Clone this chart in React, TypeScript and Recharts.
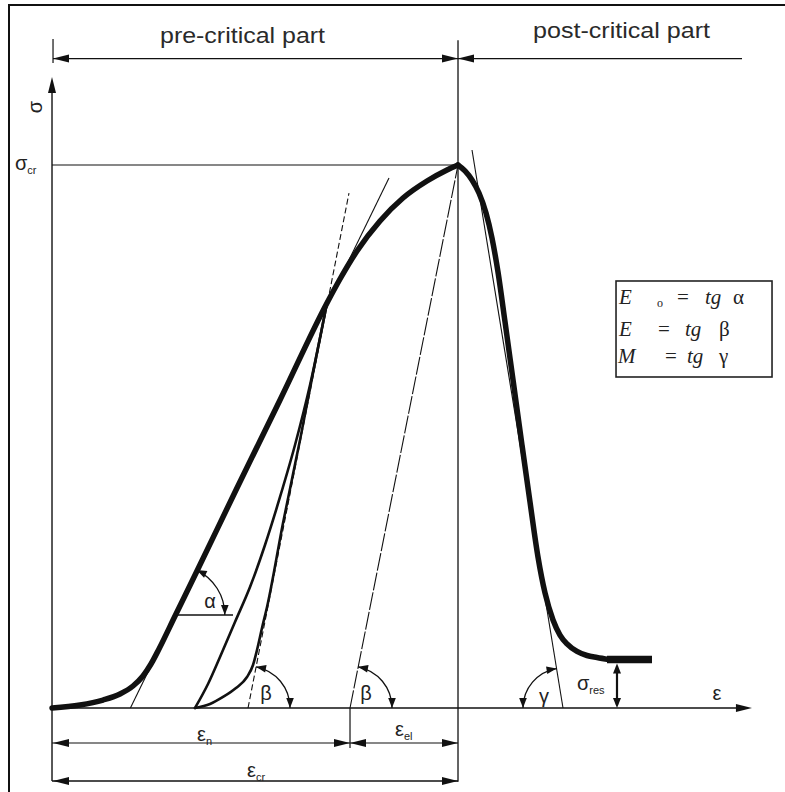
import React from 'react';
import { LineChart, Line, XAxis, YAxis, ReferenceDot } from 'recharts';

// strain ε and stress σ, both in % of the critical point (εcr = 100, σcr = 100)
type Pt = { x: number; y: number };

const preCritical: Pt[] = [
  { x: 0, y: 0 }, { x: 6.9, y: 0.55 }, { x: 12.56, y: 1.47 }, { x: 16.75, y: 2.58 },
  { x: 19.95, y: 4.05 }, { x: 22.41, y: 5.89 }, { x: 24.38, y: 8.1 }, { x: 26.35, y: 10.87 },
  { x: 30.3, y: 16.94 }, { x: 35.47, y: 24.86 }, { x: 45.32, y: 40.15 }, { x: 56.16, y: 56.72 },
  { x: 67.73, y: 74.59 }, { x: 70.94, y: 79.01 }, { x: 75.12, y: 84.16 }, { x: 80.79, y: 89.69 },
  { x: 86.45, y: 93.92 }, { x: 92.36, y: 97.05 }, { x: 97.29, y: 99.08 }, { x: 100, y: 100 },
];

const postCritical: Pt[] = [
  { x: 100, y: 100 }, { x: 101.72, y: 98.9 }, { x: 103.45, y: 97.24 }, { x: 105.17, y: 94.84 },
  { x: 106.9, y: 91.16 }, { x: 108.37, y: 86.56 }, { x: 109.85, y: 80.29 }, { x: 111.58, y: 71.09 },
  { x: 113.55, y: 60.41 }, { x: 115.76, y: 48.43 }, { x: 117.73, y: 37.94 }, { x: 119.7, y: 27.81 },
  { x: 121.43, y: 21.18 }, { x: 123.4, y: 16.21 }, { x: 125.12, y: 13.44 }, { x: 126.85, y: 11.79 },
  { x: 129.31, y: 10.41 }, { x: 131.77, y: 9.67 }, { x: 134.24, y: 9.3 }, { x: 137.19, y: 8.93 },
];

const residual: Pt[] = [{ x: 136.7, y: 8.93 }, { x: 147.78, y: 8.93 }];

// unloading / reloading loop
const unloading: Pt[] = [
  { x: 35.22, y: 0 }, { x: 38.42, y: 4.42 }, { x: 41.38, y: 9.39 }, { x: 45.07, y: 15.84 },
  { x: 48.77, y: 22.28 }, { x: 52.46, y: 30.02 }, { x: 56.16, y: 38.86 }, { x: 59.85, y: 48.43 },
  { x: 63.55, y: 59.48 }, { x: 67.73, y: 74.59 },
];
const reloading: Pt[] = [
  { x: 35.22, y: 0 }, { x: 38.92, y: 0.74 }, { x: 42.12, y: 2.03 }, { x: 45.32, y: 3.68 },
  { x: 48.03, y: 5.71 }, { x: 49.51, y: 7.92 }, { x: 50.49, y: 10.68 }, { x: 51.72, y: 14.73 },
  { x: 52.96, y: 18.6 }, { x: 56.9, y: 34.07 }, { x: 61.08, y: 49.36 }, { x: 64.29, y: 61.69 },
  { x: 67.73, y: 74.59 },
];

// moduli tangents
const tangentE0: Pt[] = [{ x: 19.31, y: 0 }, { x: 83.0, y: 97.61 }];
const tangentE: Pt[] = [{ x: 48.28, y: 0 }, { x: 73.15, y: 94.84 }];
const elastic: Pt[] = [{ x: 73.4, y: 0 }, { x: 100, y: 100 }];
const tangentM: Pt[] = [{ x: 103.45, y: 102.76 }, { x: 125.86, y: 0 }];

// axes and guide lines
const xAxisLine: Pt[] = [{ x: 0, y: 0 }, { x: 170.4, y: 0 }];
const yAxisLine: Pt[] = [{ x: 0, y: -13.44 }, { x: 0, y: 113.5 }];
const sigmaCrLine: Pt[] = [{ x: 0, y: 100 }, { x: 100, y: 100 }];
const epsCrLine: Pt[] = [{ x: 100, y: -13.6 }, { x: 100, y: 123 }];
const alphaBase: Pt[] = [{ x: 30.25, y: 17.13 }, { x: 44.58, y: 17.13 }];

// dimension lines
const preDim: Pt[] = [{ x: 0.25, y: 119.61 }, { x: 100, y: 119.61 }];
const postDim: Pt[] = [{ x: 100, y: 119.61 }, { x: 169.95, y: 119.61 }];
const preTick: Pt[] = [{ x: 0.25, y: 118.8 }, { x: 0.25, y: 123.2 }];
const epsNDim: Pt[] = [{ x: 0, y: -6.45 }, { x: 73.4, y: -6.45 }];
const epsElDim: Pt[] = [{ x: 73.4, y: -6.45 }, { x: 100, y: -6.45 }];
const epsNTick: Pt[] = [{ x: 73.4, y: 0 }, { x: 73.4, y: -7.37 }];
const epsCrDim: Pt[] = [{ x: 0, y: -13.44 }, { x: 100, y: -13.44 }];
const sigmaResDim: Pt[] = [{ x: 139.16, y: 0.5 }, { x: 139.16, y: 7.7 }];

// arrow tips: position and pointing direction (deg)
const arrowTips = [
  { x: 0, y: 116.2, dir: 90, big: true },
  { x: 172.4, y: 0, dir: 0, big: true },
  { x: 0.25, y: 119.61, dir: 180, big: true },
  { x: 100, y: 119.61, dir: 0, big: true },
  { x: 100, y: 119.61, dir: 180, big: true },
  { x: 0.25, y: -6.45, dir: 180, big: true },
  { x: 73.4, y: -6.45, dir: 0, big: true },
  { x: 73.4, y: -6.45, dir: 180, big: true },
  { x: 100, y: -6.45, dir: 0, big: true },
  { x: 0.25, y: -13.44, dir: 180, big: true },
  { x: 100, y: -13.44, dir: 0, big: true },
  { x: 139.16, y: 8.2, dir: 90, big: false },
  { x: 139.16, y: 0, dir: 270, big: false },
];

// angle markers: vertex, radius (px), angle range (deg)
const angleArcs = [
  { x: 30.25, y: 17.13, r: 50, lo: 0, hi: 64 },
  { x: 48.28, y: 0, r: 42, lo: 0, hi: 79 },
  { x: 73.4, y: 0, r: 42, lo: 0, hi: 79 },
  { x: 125.86, y: 0, r: 40, lo: 99.3, hi: 180 },
];

// symbols: main glyph + optional subscript
const symbols = [
  { x: -9.11, y: 99.08, main: 'σ', sub: 'cr', anchor: 'start' },
  { x: 163.79, y: 1.47, main: 'ε', sub: '', anchor: 'middle' },
  { x: 35.71, y: -6.08, main: 'ε', sub: 'n', anchor: 'start' },
  { x: 84.48, y: -5.16, main: 'ε', sub: 'el', anchor: 'start' },
  { x: 48.03, y: -12.71, main: 'ε', sub: 'cr', anchor: 'start' },
  { x: 129.31, y: 3.31, main: 'σ', sub: 'res', anchor: 'start' },
  { x: 38.92, y: 18.42, main: 'α', sub: '', anchor: 'middle' },
  { x: 52.71, y: 1.47, main: 'β', sub: '', anchor: 'middle' },
  { x: 77.34, y: 1.47, main: 'β', sub: '', anchor: 'middle' },
  { x: 121.18, y: 0.92, main: 'γ', sub: '', anchor: 'middle' },
];

const INK = '#111';
const SANS = "'Liberation Sans', Arial, sans-serif";
const SERIF = "'Liberation Serif', 'Times New Roman', serif";

const seg = (key: string, data: Pt[], width: number, extra: object = {}) => (
  <Line
    key={key}
    data={data}
    dataKey="y"
    type="linear"
    stroke={INK}
    strokeWidth={width}
    dot={false}
    activeDot={false}
    isAnimationActive={false}
    {...extra}
  />
);

const curve = (key: string, data: Pt[], width: number) => (
  <Line
    key={key}
    data={data}
    dataKey="y"
    type="monotone"
    stroke={INK}
    strokeWidth={width}
    strokeLinecap="round"
    strokeLinejoin="round"
    dot={false}
    activeDot={false}
    isAnimationActive={false}
  />
);

const tri = (tx: number, ty: number, ux: number, uy: number, len: number, half: number) => {
  const bx = tx - ux * len;
  const by = ty - uy * len;
  return `${tx},${ty} ${bx - uy * half},${by + ux * half} ${bx + uy * half},${by - ux * half}`;
};

const arrowShape = (dir: number, big: boolean) => (p: any) => {
  const a = (dir * Math.PI) / 180;
  return <polygon points={tri(p.cx, p.cy, Math.cos(a), -Math.sin(a), big ? 16 : 10, 4)} fill={INK} />;
};

const arcShape = (r: number, lo: number, hi: number) => (p: any) => {
  const rad = (d: number) => (d * Math.PI) / 180;
  const at = (d: number) => [p.cx + r * Math.cos(rad(d)), p.cy - r * Math.sin(rad(d))];
  const [x0, y0] = at(hi);
  const [x1, y1] = at(lo);
  const head = (d: number, sign: number) => {
    const [tx, ty] = at(d);
    return <polygon points={tri(tx, ty, -Math.sin(rad(d)) * sign, -Math.cos(rad(d)) * sign, 10, 3.8)} fill={INK} />;
  };
  return (
    <g>
      <path d={`M${x0},${y0} A${r},${r} 0 0 1 ${x1},${y1}`} fill="none" stroke={INK} strokeWidth={1.3} />
      {head(hi, 1)}
      {head(lo, -1)}
    </g>
  );
};

const symbolShape = (main: string, sub: string, anchor: string) => (p: any) => (
  <text x={p.cx} y={p.cy} textAnchor={anchor} fontFamily={SANS} fontSize={20} fill="#222">
    <tspan>{main}</tspan>
    {sub && (
      <tspan fontSize={11} dy={4}>
        {sub}
      </tspan>
    )}
  </text>
);

const captionShape = (text: string, length: number) => (p: any) => (
  <text
    x={p.cx}
    y={p.cy}
    textAnchor="middle"
    fontFamily={SANS}
    fontSize={22}
    fill="#2a2a2a"
    textLength={length}
    lengthAdjust="spacingAndGlyphs"
  >
    {text}
  </text>
);

const sigmaAxisShape = (p: any) => (
  <text
    x={p.cx}
    y={p.cy}
    textAnchor="middle"
    dominantBaseline="central"
    fontFamily={SANS}
    fontSize={20}
    fill="#222"
    transform={`rotate(-90 ${p.cx} ${p.cy})`}
  >
    σ
  </text>
);

// E0 = tg α, E = tg β, M = tg γ
const legendShape = (p: any) => {
  const x = p.cx;
  const y = p.cy;
  return (
    <g fontFamily={SERIF} fontSize={21} fill="#222">
      <rect x={x} y={y} width={156} height={96} fill="#fff" stroke="#222" strokeWidth={1.6} />
      <text x={x + 3} y={y + 23} fontStyle="italic">E</text>
      <text x={x + 41} y={y + 26} fontSize={12} fill="#222">o</text>
      <text x={x + 61} y={y + 23}>=</text>
      <text x={x + 89} y={y + 23} fontStyle="italic">tg</text>
      <text x={x + 117} y={y + 23}>α</text>

      <text x={x + 3} y={y + 55} fontStyle="italic">E</text>
      <text x={x + 42} y={y + 55}>=</text>
      <text x={x + 69} y={y + 55} fontStyle="italic">tg</text>
      <text x={x + 103} y={y + 55}>β</text>

      <text x={x + 2} y={y + 82} fontStyle="italic">M</text>
      <text x={x + 49} y={y + 82}>=</text>
      <text x={x + 71} y={y + 82} fontStyle="italic">tg</text>
      <text x={x + 103} y={y + 82}>γ</text>
    </g>
  );
};

export default function App() {
  return (
    <div style={{ position: 'absolute', left: 0, top: 0, width: 785, height: 792, background: '#fff' }}>
      <LineChart width={785} height={792} margin={{ top: 0, right: 0, bottom: 0, left: 0 }}>
        <XAxis type="number" dataKey="x" domain={[-12.81, 180.54]} allowDataOverflow hide />
        <YAxis type="number" domain={[-15.47, 130.39]} allowDataOverflow hide />

        {seg('xaxis', xAxisLine, 1.4)}
        {seg('yaxis', yAxisLine, 1.4)}
        {seg('scr', sigmaCrLine, 1.2)}
        {seg('ecr', epsCrLine, 1.3)}
        {seg('preDim', preDim, 1.2)}
        {seg('postDim', postDim, 1.2)}
        {seg('preTick', preTick, 1.2)}
        {seg('enDim', epsNDim, 1.2)}
        {seg('eelDim', epsElDim, 1.2)}
        {seg('enTick', epsNTick, 1.2)}
        {seg('ecrDim', epsCrDim, 1.3)}
        {seg('sresDim', sigmaResDim, 2.2)}
        {seg('alphaBase', alphaBase, 1.3)}

        {seg('tE0', tangentE0, 1.1)}
        {seg('tE', tangentE, 1.1, { strokeDasharray: '6 3' })}
        {seg('el', elastic, 1.1, { strokeDasharray: '18 2' })}
        {seg('tM', tangentM, 1.1)}

        {curve('unload', unloading, 2.6)}
        {curve('reload', reloading, 2.6)}
        {curve('pre', preCritical, 5.5)}
        {curve('post', postCritical, 5.5)}
        {seg('res', residual, 7.5)}

        {arrowTips.map((a, i) => (
          <ReferenceDot key={`arw-${i}`} x={a.x} y={a.y} r={0} shape={arrowShape(a.dir, a.big)} />
        ))}
        {angleArcs.map((a, i) => (
          <ReferenceDot key={`arc-${i}`} x={a.x} y={a.y} r={0} shape={arcShape(a.r, a.lo, a.hi)} />
        ))}
        {symbols.map((s, i) => (
          <ReferenceDot key={`sym-${i}`} x={s.x} y={s.y} r={0} shape={symbolShape(s.main, s.sub, s.anchor)} />
        ))}

        <ReferenceDot x={46.92} y={122.47} r={0} shape={captionShape('pre-critical part', 165)} />
        <ReferenceDot x={140.27} y={123.39} r={0} shape={captionShape('post-critical part', 177)} />
        <ReferenceDot x={-4.19} y={110.68} r={0} shape={sigmaAxisShape} />
        <ReferenceDot x={138.92} y={78.64} r={0} shape={legendShape} />
      </LineChart>
      <div
        style={{
          position: 'absolute',
          left: 8,
          top: 4,
          right: 0,
          bottom: 0,
          borderTop: '2.5px solid #111',
          borderLeft: '2.5px solid #111',
          pointerEvents: 'none',
        }}
      />
    </div>
  );
}
